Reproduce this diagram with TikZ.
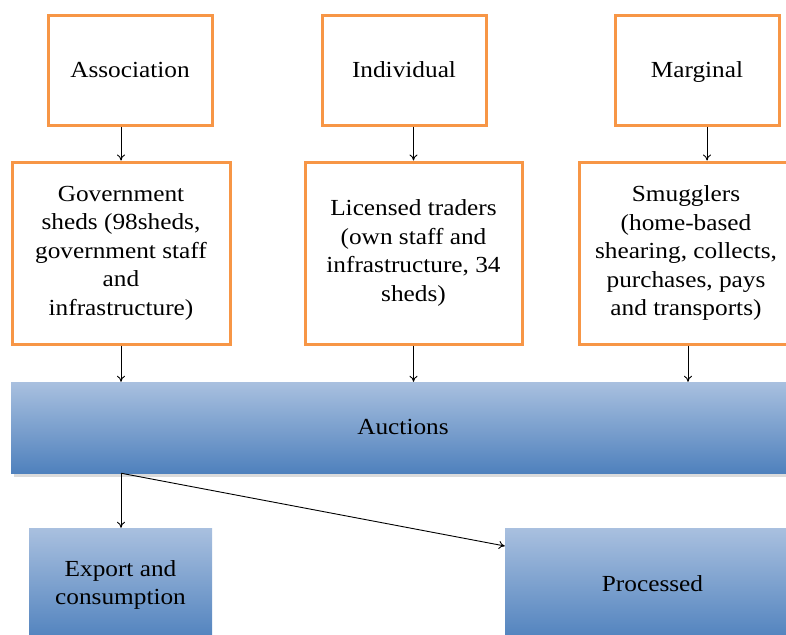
\documentclass[tikz,border=0pt]{standalone}
\usepackage{fontspec}
\setmainfont{Liberation Serif}[FakeStretch=1.1]
\usetikzlibrary{arrows.meta}
\definecolor{boxorange}{HTML}{F79646}
\definecolor{bluetop}{HTML}{A9C0DF}
\definecolor{bluebot}{HTML}{4F81BD}
\tikzset{
  obox/.style={draw=boxorange, line width=3pt, fill=white, align=center,
    inner sep=0pt, font=\fontsize{23}{28.5}\selectfont},
  bbox/.style={top color=bluetop, bottom color=bluebot, draw=none, align=center,
    inner sep=0pt, font=\fontsize{23}{28.5}\selectfont},
  oneline/.style={text height=15pt, text depth=2pt},
  arr/.style={draw=black, line width=0.9pt, -{To[length=6pt,width=8pt]}},
}
\begin{document}
\begin{tikzpicture}[x=1pt,y=-1pt]
\useasboundingbox (0,0) rectangle (786,634);
\clip (0,0) rectangle (786,634);
% top row
\node[obox, oneline, minimum width=164pt, minimum height=109pt] (assoc) at (130,70.5) {Association};
\node[obox, oneline, minimum width=164pt, minimum height=109pt] (indiv) at (404,70.5) {Individual};
\node[obox, oneline, minimum width=164pt, minimum height=109pt] (marg) at (697,70.5) {Marginal};
% second row
\node[obox, minimum width=218pt, minimum height=182pt] (gov) at (121,253)
  {Government\\sheds (98sheds,\\government staff\\and\\infrastructure)};
\node[obox, minimum width=217pt, minimum height=182pt] (lic) at (413.5,253)
  {Licensed traders\\(own staff and\\infrastructure, 34\\sheds)};
\node[obox, minimum width=214pt, minimum height=182pt] (smug) at (686,253)
  {Smugglers\\(home-based\\shearing, collects,\\purchases, pays\\and transports)};
% auctions bar with shadow
\fill[gray!28] (14,473) rectangle (797,477);
\node[bbox, oneline, minimum width=784pt, minimum height=91pt] (auct) at (403,427.5) {Auctions};
% bottom row
\node[bbox, minimum width=183pt, minimum height=114pt] (exp) at (120.5,585) {Export and\\consumption};
\node[bbox, oneline, minimum width=295pt, minimum height=114pt] (proc) at (652.5,585) {Processed};
% connectors
\draw[arr] (assoc.south -| gov.north) -- (gov.north);
\draw[arr] (indiv.south -| lic.north) -- (lic.north);
\draw[arr] ([xshift=10pt]marg.south) -- ([xshift=10pt]marg.south |- smug.north);
\draw[arr] ([xshift=2pt]smug.south) -- ([xshift=2pt]smug.south |- auct.north);
\draw[arr] (gov.south) -- (gov.south |- auct.north);
\draw[arr] (lic.south) -- (lic.south |- auct.north);
\coordinate (split) at (auct.south -| gov.south);
\draw[arr] (split) -- (split |- exp.north);
\draw[arr] (split) -- ([yshift=39pt]proc.west);
\end{tikzpicture}
\end{document}
